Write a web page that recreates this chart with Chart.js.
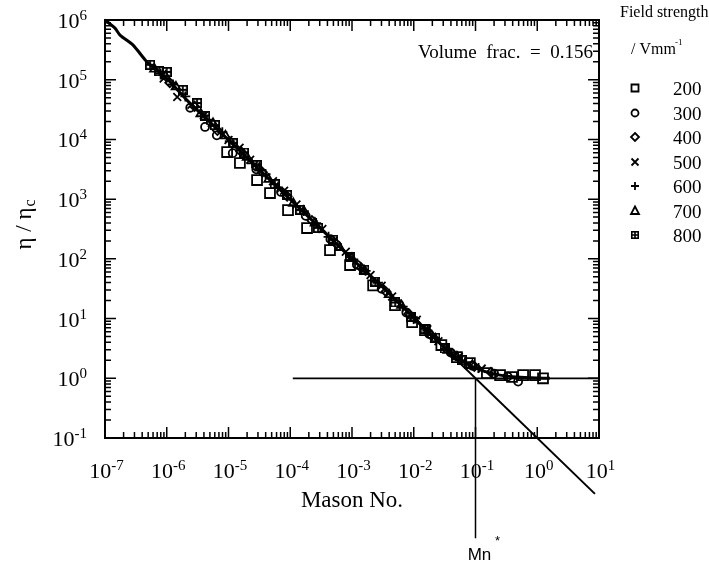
<!DOCTYPE html>
<html>
<head>
<meta charset="utf-8">
<script src="https://cdn.jsdelivr.net/npm/chart.js@4/dist/chart.umd.min.js"></script>
<style>
  html, body { margin: 0; padding: 0; background: #fff; }
  #wrap { width: 709px; height: 565px; }
</style>
</head>
<body>
<div id="wrap"><canvas id="chart" width="709" height="565"></canvas></div>
<script>
// axis ticks (decades) and their labels: base 10 with exponent
const xTickExps = [-7, -6, -5, -4, -3, -2, -1, 0, 1];
const xTickLabels = ['-7', '-6', '-5', '-4', '-3', '-2', '-1', '0', '1'];
const yTickExps = [-1, 0, 1, 2, 3, 4, 5, 6];
const yTickLabels = ['-1', '0', '1', '2', '3', '4', '5', '6'];
const minorSteps = [2, 3, 4, 5, 6, 7, 8, 9];

// field strength series, V/mm
const fieldStrengths = ['200', '300', '400', '500', '600', '700', '800'];

const mason200 = [9.5e-6, 1.53e-5, 2.9e-5, 4.7e-5, 9.2e-5, 1.87e-4, 4.4e-4, 9.3e-4, 2.2e-3, 4.97e-3, 9.4e-3, 0.0152, 0.028, 0.050, 0.081, 0.153, 0.25, 0.39, 0.59, 0.92, 1.24];
const eta200 = [6150, 4030, 2090, 1265, 656, 328, 140, 78.7, 36, 16.8, 8.7, 6.4, 3.6, 2.26, 1.8, 1.22, 1.13, 1.05, 1.13, 1.13, 1.0];

const mason300 = [2.40e-6, 4.17e-6, 6.46e-6, 1.17e-5, 2.82e-5, 7.08e-5, 1.78e-4, 4.47e-4, 1.20e-3, 3.02e-3, 7.59e-3, 0.0178, 0.0398, 0.0891, 0.200, 0.331, 0.49];
const eta300 = [3.39e4, 1.62e4, 1.17e4, 5.89e3, 3.16e3, 1.32e3, 525, 214, 79.4, 31.6, 12.6, 5.50, 2.69, 1.62, 1.20, 1.07, 0.88];

const mason400 = [1.12e-6, 2.82e-6, 6.61e-6, 1.58e-5, 3.55e-5, 8.91e-5, 2.24e-4, 5.62e-4, 1.41e-3, 3.55e-3, 8.32e-3, 0.0191, 0.0417, 0.0955, 0.178];
const eta400 = [8.91e4, 3.55e4, 1.41e4, 6.31e3, 2.82e3, 1.12e3, 437, 178, 70.8, 28.2, 12.0, 5.25, 2.63, 1.58, 1.26];

const mason500 = [8.91e-7, 1.48e-6, 2.51e-6, 3.98e-6, 1.0e-5, 1.51e-5, 2.24e-5, 5.25e-5, 7.94e-5, 1.26e-4, 3.31e-4, 5.01e-4, 7.94e-4, 2.0e-3, 3.02e-3, 4.47e-3, 0.0112, 0.0166, 0.0251, 0.0537, 0.126];
const eta500 = [1.05e5, 5.13e4, 3.80e4, 2.51e4, 9.77e3, 7.24e3, 4.57e3, 2.0e3, 1.38e3, 813, 316, 200, 132, 53.7, 35.5, 23.4, 9.55, 6.61, 4.17, 2.29, 1.45];

const mason600 = [7.94e-7, 1.26e-6, 2.0e-6, 4.47e-6, 7.94e-6, 1.05e-5, 2.40e-5, 3.98e-5, 6.31e-5, 1.66e-4, 2.63e-4, 4.17e-4, 1.05e-3, 1.66e-3, 2.63e-3, 6.61e-3, 0.0105, 0.0166, 0.0355, 0.0708, 0.112];
const eta600 = [1.26e5, 8.32e4, 5.25e4, 2.14e4, 1.32e4, 9.33e3, 3.98e3, 2.63e3, 1.58e3, 631, 398, 234, 97.7, 63.1, 39.8, 15.8, 10.0, 6.31, 2.95, 1.86, 1.48];

const mason700 = [6.31e-7, 9.55e-7, 1.41e-6, 3.55e-6, 5.62e-6, 8.91e-6, 2.0e-5, 3.16e-5, 4.47e-5, 1.12e-4, 1.66e-4, 2.51e-4, 6.31e-4, 1.0e-3, 1.58e-3, 3.98e-3, 6.31e-3, 0.01, 0.0224, 0.0355, 0.0501, 0.0891];
const eta700 = [1.51e5, 1.15e5, 7.59e4, 2.69e4, 1.86e4, 1.15e4, 5.01e3, 3.31e3, 2.14e3, 851, 631, 398, 155, 102, 63.1, 25.1, 16.6, 10.0, 4.57, 2.95, 2.29, 1.66];

const mason800 = [5.37e-7, 7.59e-7, 1.0e-6, 1.82e-6, 3.09e-6, 4.17e-6, 6.03e-6, 1.17e-5, 1.78e-5, 2.88e-5, 5.62e-5, 8.91e-5, 1.45e-4, 2.82e-4, 5.01e-4, 9.33e-4, 1.58e-3, 2.40e-3, 5.01e-3, 8.91e-3, 0.0151, 0.0224, 0.0316, 0.0603];
const eta800 = [1.78e5, 1.38e5, 1.35e5, 6.76e4, 4.07e4, 2.51e4, 1.74e4, 8.71e3, 6.03e3, 3.72e3, 1.78e3, 1.17e3, 661, 331, 209, 107, 66.1, 41.7, 18.6, 10.7, 6.76, 4.79, 3.16, 2.0];

// master curve drawn through the data
const fitMason = [1.0e-7, 1.45e-7, 1.75e-7, 2.85e-7, 4.8e-7, 1.0e-6, 2.1e-6, 5.0e-6, 1.2e-5, 2.5e-5, 7.6e-5, 2.7e-4, 9.3e-4, 3.2e-3, 6.7e-3, 0.0205, 0.0386, 0.072, 0.132, 0.25, 0.47, 1.0, 1.6];
const fitEta = [1.0e6, 7.3e5, 5.6e5, 3.8e5, 1.98e5, 1.05e5, 4.6e4, 1.95e4, 8.2e3, 3.9e3, 1.3e3, 370, 107, 33, 15.5, 5.0, 2.7, 1.75, 1.33, 1.13, 1.05, 1.01, 1.0];

// construction lines: asymptote, eta/eta_c = 1, and Mn* drop line
const asymMason = [0.01, 8.6];
const asymEta = [10, 0.0116];
const plateauMason = [1.1e-4, 10];
const plateauEta = [1, 1];
const mnStarMason = [0.1, 0.1];
const mnStarEta = [1, 0.0021];

// square with a cross inside, used for 800 V/mm
function makeBoxPlus(size, lw) {
  const c = document.createElement('canvas');
  c.width = size;
  c.height = size;
  const g = c.getContext('2d');
  g.strokeStyle = '#000';
  g.lineWidth = lw;
  g.strokeRect(lw / 2, lw / 2, size - lw, size - lw);
  g.beginPath();
  g.moveTo(size / 2, 0); g.lineTo(size / 2, size);
  g.moveTo(0, size / 2); g.lineTo(size, size / 2);
  g.stroke();
  return c;
}
const boxPlus = makeBoxPlus(10, 1.8);
const boxPlusSmall = makeBoxPlus(8, 1.6);

const markerStyles = ['rect', 'circle', 'rectRot', 'crossRot', 'cross', 'triangle', boxPlus];
const markerRadius = [7, 4, 4.5, 5.5, 5, 5, 5];
const seriesX = [mason200, mason300, mason400, mason500, mason600, mason700, mason800];
const seriesY = [eta200, eta300, eta400, eta500, eta600, eta700, eta800];

function toPoints(xs, ys) {
  return xs.map((x, i) => ({ x: x, y: ys[i] }));
}

const lineDatasets = [
  { data: toPoints(fitMason, fitEta), width: 3, tension: 0.25 },
  { data: toPoints(asymMason, asymEta), width: 2, tension: 0 },
  { data: toPoints(plateauMason, plateauEta), width: 1.8, tension: 0 },
  { data: toPoints(mnStarMason, mnStarEta), width: 1.5, tension: 0 }
].map(d => ({
  data: d.data,
  showLine: true,
  borderColor: '#000',
  borderWidth: d.width,
  tension: d.tension,
  pointRadius: 0,
  clip: false
}));

const scatterDatasets = fieldStrengths.map((label, i) => ({
  label: label,
  data: toPoints(seriesX[i], seriesY[i]),
  showLine: false,
  pointStyle: markerStyles[i],
  pointRadius: markerRadius[i],
  borderColor: '#000',
  backgroundColor: 'rgba(0,0,0,0)',
  borderWidth: 1.8
}));

// legend marker drawn by hand
function drawMarker(ctx, i, x, y) {
  ctx.beginPath();
  if (i === 0) {
    ctx.rect(x - 3.5, y - 3.5, 7, 7);
  } else if (i === 1) {
    ctx.arc(x, y, 3.5, 0, Math.PI * 2);
  } else if (i === 2) {
    ctx.moveTo(x, y - 4); ctx.lineTo(x + 4, y); ctx.lineTo(x, y + 4); ctx.lineTo(x - 4, y); ctx.closePath();
  } else if (i === 3) {
    ctx.moveTo(x - 3.5, y - 3.5); ctx.lineTo(x + 3.5, y + 3.5);
    ctx.moveTo(x + 3.5, y - 3.5); ctx.lineTo(x - 3.5, y + 3.5);
  } else if (i === 4) {
    ctx.moveTo(x - 4, y); ctx.lineTo(x + 4, y);
    ctx.moveTo(x, y - 4); ctx.lineTo(x, y + 4);
  } else if (i === 5) {
    ctx.moveTo(x, y - 4.5); ctx.lineTo(x + 4, y + 3); ctx.lineTo(x - 4, y + 3); ctx.closePath();
  } else {
    ctx.drawImage(boxPlusSmall, x - 4, y - 4);
    return;
  }
  ctx.stroke();
}

// "10" with a raised exponent
function powerLabelWidth(ctx, exp) {
  ctx.font = '22px "Liberation Serif"';
  const wBase = ctx.measureText('10').width;
  ctx.font = '15px "Liberation Serif"';
  return { wBase: wBase, total: wBase + ctx.measureText(exp).width };
}
function drawPowerLabel(ctx, exp, x, baseline, wBase) {
  ctx.font = '22px "Liberation Serif"';
  ctx.fillText('10', x, baseline);
  ctx.font = '15px "Liberation Serif"';
  ctx.fillText(exp, x + wBase, baseline - 8);
}

const decorations = {
  id: 'decorations',
  afterDraw(chart) {
    const ctx = chart.ctx;
    const { left, right, top, bottom } = chart.chartArea;
    const xs = chart.scales.x;
    const ys = chart.scales.y;
    ctx.save();
    ctx.strokeStyle = '#000';
    ctx.fillStyle = '#000';

    // frame
    ctx.lineWidth = 2;
    ctx.strokeRect(left, top, right - left, bottom - top);

    // inward ticks on all four sides
    ctx.lineWidth = 1.5;
    ctx.beginPath();
    xTickExps.forEach((e, i) => {
      const steps = i < xTickExps.length - 1 ? [1].concat(minorSteps) : [1];
      steps.forEach(k => {
        const px = xs.getPixelForValue(k * Math.pow(10, e));
        const len = k === 1 ? 11 : 6;
        ctx.moveTo(px, bottom); ctx.lineTo(px, bottom - len);
        ctx.moveTo(px, top); ctx.lineTo(px, top + len);
      });
    });
    yTickExps.forEach((e, i) => {
      const steps = i < yTickExps.length - 1 ? [1].concat(minorSteps) : [1];
      steps.forEach(k => {
        const py = ys.getPixelForValue(k * Math.pow(10, e));
        const len = k === 1 ? 11 : 6;
        ctx.moveTo(left, py); ctx.lineTo(left + len, py);
        ctx.moveTo(right, py); ctx.lineTo(right - len, py);
      });
    });
    ctx.stroke();

    // decade tick labels
    ctx.textAlign = 'left';
    ctx.textBaseline = 'alphabetic';
    xTickExps.forEach((e, i) => {
      const px = xs.getPixelForValue(Math.pow(10, e));
      const m = powerLabelWidth(ctx, xTickLabels[i]);
      drawPowerLabel(ctx, xTickLabels[i], px + 1.5 - m.total / 2, 478, m.wBase);
    });
    yTickExps.forEach((e, i) => {
      const py = ys.getPixelForValue(Math.pow(10, e));
      const m = powerLabelWidth(ctx, yTickLabels[i]);
      drawPowerLabel(ctx, yTickLabels[i], 87 - m.total, py + 8, m.wBase);
    });

    // y axis title with subscript
    ctx.save();
    ctx.translate(31, (top + bottom) / 2 - 4);
    ctx.rotate(-Math.PI / 2);
    ctx.font = '23px "Liberation Serif"';
    const main = 'η / η';
    const wMain = ctx.measureText(main).width;
    ctx.font = '16px "Liberation Serif"';
    const wSub = ctx.measureText('c').width;
    const x0 = -(wMain + wSub) / 2;
    ctx.font = '23px "Liberation Serif"';
    ctx.fillText(main, x0, 0);
    ctx.font = '16px "Liberation Serif"';
    ctx.fillText('c', x0 + wMain + 1, 4);
    ctx.restore();

    // x axis title
    ctx.font = '23px "Liberation Serif"';
    ctx.textAlign = 'center';
    ctx.fillText('Mason No.', (left + right) / 2, 507);

    // volume fraction note
    ctx.font = '19px "Liberation Serif"';
    ctx.textAlign = 'right';
    ctx.fillText('Volume  frac.  =  0.156', 593, 58);

    // Mn* label
    ctx.textAlign = 'center';
    ctx.font = '17px "Liberation Sans"';
    ctx.fillText('Mn', xs.getPixelForValue(0.1) + 4, 560);
    ctx.font = '13px "Liberation Sans"';
    ctx.fillText('*', xs.getPixelForValue(0.1) + 22, 545);

    // legend
    ctx.textAlign = 'left';
    ctx.font = '16px "Liberation Serif"';
    ctx.fillText('Field strength', 620, 17);
    ctx.fillText('/ Vmm', 631, 54);
    const wV = ctx.measureText('/ Vmm').width;
    ctx.font = '9px "Liberation Serif"';
    ctx.fillText('-1', 631 + wV - 1, 45);
    const rowY = [88, 113, 137, 162, 186, 211, 235];
    ctx.lineWidth = 1.8;
    fieldStrengths.forEach((label, i) => {
      drawMarker(ctx, i, 635, rowY[i]);
      ctx.font = '19px "Liberation Serif"';
      ctx.fillText(label, 673, rowY[i] + 7);
    });
    ctx.restore();
  }
};

new Chart(document.getElementById('chart'), {
  type: 'scatter',
  data: { datasets: lineDatasets.concat(scatterDatasets) },
  options: {
    responsive: false,
    animation: false,
    layout: { padding: { top: 20, right: 110, left: 0, bottom: 0 } },
    plugins: { legend: { display: false }, tooltip: { enabled: false } },
    scales: {
      x: {
        type: 'logarithmic',
        min: 1e-7,
        max: 10,
        afterBuildTicks: s => { s.ticks = xTickExps.map(e => ({ value: Math.pow(10, e) })); },
        afterFit: s => { s.height = 127; },
        grid: { display: false },
        border: { display: false },
        ticks: { display: false }
      },
      y: {
        type: 'logarithmic',
        min: 0.1,
        max: 1e6,
        afterBuildTicks: s => { s.ticks = yTickExps.map(e => ({ value: Math.pow(10, e) })); },
        afterFit: s => { s.width = 105; },
        grid: { display: false },
        border: { display: false },
        ticks: { display: false }
      }
    }
  },
  plugins: [decorations]
});
</script>
</body>
</html>
